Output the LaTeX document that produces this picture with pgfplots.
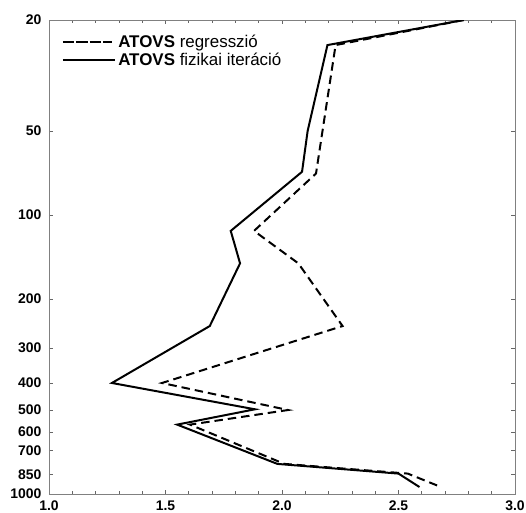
\documentclass[border=0pt]{standalone}
\usepackage{fontspec}
\setmainfont{Liberation Sans}
\usepackage{pgfplots}
\pgfplotsset{compat=1.18}
\usetikzlibrary{calc}
\begin{document}
\begin{tikzpicture}
\begin{axis}[
  scale only axis,
  width=466bp, height=474bp,
  xmin=1, xmax=3,
  ymode=log, ymin=20, ymax=1000, y dir=reverse,
  xtick={1,1.5,2,2.5,3},
  xticklabels={1.0,1.5,2.0,2.5,3.0},
  minor x tick num=4,
  ytick={20,50,100,200,300,400,500,600,700,850,1000},
  yticklabels={20,50,100,200,300,400,500,600,700,850,1000},
  yminorticks=false,
  tick align=inside,
  major tick length=4bp,
  minor tick length=3bp,
  axis line style={black!50, line width=0.8pt},
  every tick/.style={black!60, line width=0.8pt},
  tick label style={font=\bfseries\fontsize{14}{15}\selectfont},
  yticklabel style={xshift=-4bp},
  xticklabel style={yshift=-3bp},
  legend style={draw=none, fill=none, at={(rel axis cs:0.025,0.975)}, anchor=north west,
    font=\fontsize{17}{19}\selectfont, row sep=0pt, inner sep=1pt},
  legend cell align=left,
  legend image code/.code={\path (0cm,0cm) -- (1.85cm,0cm); \draw[#1] (0.1cm,0cm) -- (1.55cm,0cm);},
]
\addplot[black, line width=2pt, dash pattern=on 8.5pt off 5pt] coordinates {
(2.78,20) (2.23,24.6) (2.146,71) (1.88,114) (2.07,149) (2.26,250) (1.485,400) (2.026,500) (1.605,564) (2.01,780) (2.54,845) (2.67,935)
};
\addlegendentry{\textbf{ATOVS} regresszió}
\addplot[black, line width=2pt] coordinates {
(2.78,20) (2.195,24.6) (2.11,50) (2.086,70) (1.78,114) (1.82,149) (1.69,250) (1.27,400) (1.884,497) (1.55,564) (1.98,780) (2.50,845) (2.59,944)
};
\addlegendentry{\textbf{ATOVS} fizikai iteráció}
\end{axis}
\pgfresetboundingbox
\useasboundingbox ($(current axis.south west)+(-49bp,-19bp)$) rectangle ($(current axis.north east)+(11bp,20bp)$);
\end{tikzpicture}
\end{document}
